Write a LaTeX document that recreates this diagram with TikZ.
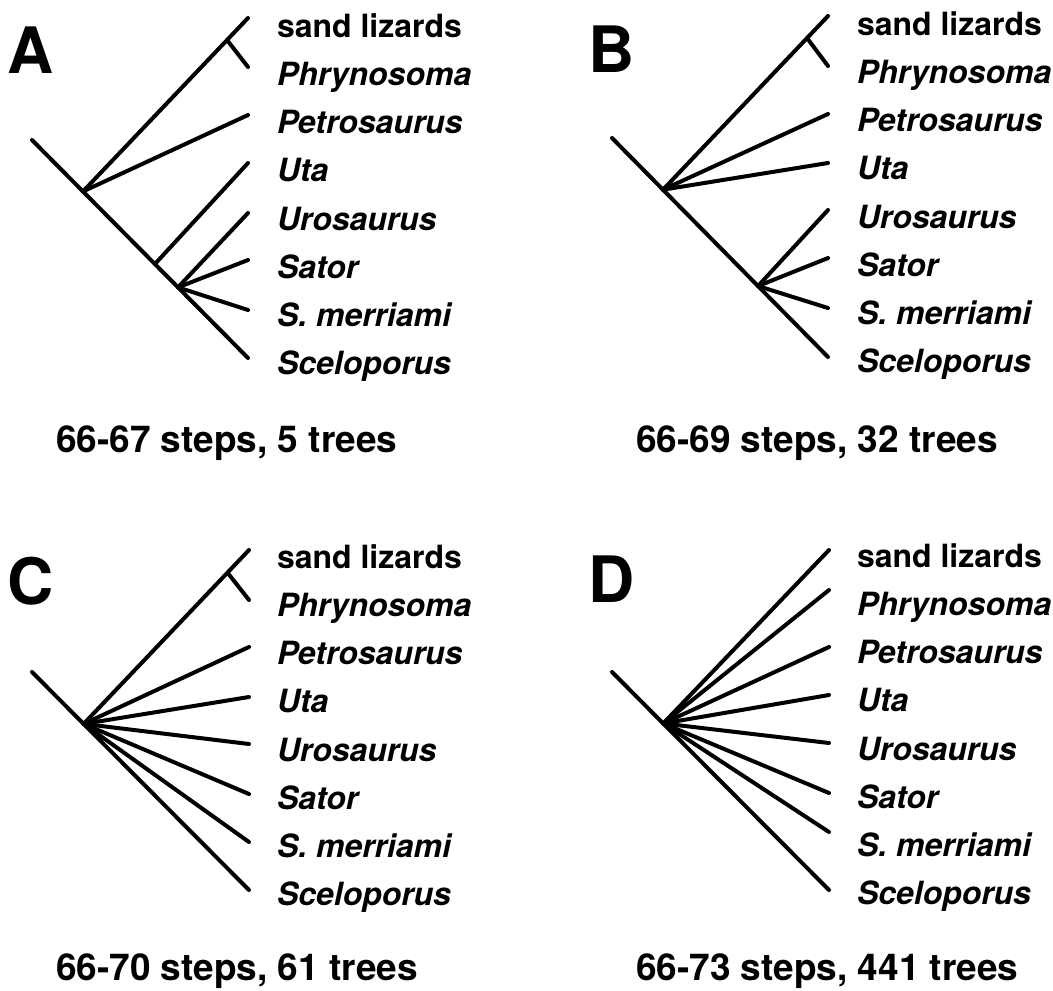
\documentclass[tikz,border=0pt]{standalone}
\usepackage{fontspec}
\setmainfont{TeX Gyre Heros}
\usetikzlibrary{calc}

\tikzset{
  branch/.style={draw, line width=4bp, line cap=round},
  taxon/.style={anchor=base west, inner sep=0pt, outer sep=0pt,
    font=\fontsize{32bp}{38bp}\selectfont\bfseries\itshape},
  plaintaxon/.style={taxon, font=\fontsize{32bp}{38bp}\selectfont\bfseries},
  caption/.style={anchor=base west, inner sep=0pt, outer sep=0pt,
    font=\fontsize{37bp}{44bp}\selectfont\bfseries},
  panel/.style={anchor=base west, inner sep=0pt, outer sep=0pt,
    font=\fontsize{64bp}{70bp}\selectfont\bfseries},
}

% Tip coordinates of one panel: #1 prefix, #2 x of the tips, #3 list of y values
\newcommand\placetips[3]{%
  \foreach \nm/\ty in {#3}
    \coordinate (#1-\nm) at (#2,\ty);
}

% Taxon labels of one panel: #1 prefix, #2 baseline of the first row
\newcommand\taxonlabels[2]{%
  \node[plaintaxon] (#1-lsl) at (277,#2) {sand lizards};
  \foreach \nm/\txt [count=\i] in {ph/Phrynosoma, pe/Petrosaurus, ut/Uta,
      ur/Urosaurus, sa/Sator, sm/S.\ merriami, sc/Sceloporus}
    \node[taxon] (#1-l\nm) at (277,{#2+48.25*\i}) {\txt};
}

\begin{document}
\begin{tikzpicture}[x=1bp, y=-1bp]
\useasboundingbox (0,0) rectangle (1053,991);

% ---------------- Panel A ----------------
\begin{scope}
  \node[panel] (A-tag) at (7,73) {A};
  \coordinate (A-root) at (32,140);
  \placetips{A}{248}{sl/18, ph/67, pe/115, ut/163, ur/213, sa/260, sm/310, sc/358}
  \coordinate (A-n1) at ($(A-root)!0.236!(A-sc)$);
  \coordinate (A-n2) at ($(A-root)!0.569!(A-sc)$);
  \coordinate (A-n3) at ($(A-root)!0.676!(A-sc)$);
  \coordinate (A-n4) at ($(A-n1)!0.873!(A-sl)$);
  \draw[branch] (A-root) -- (A-sc);
  \draw[branch] (A-n1) -- (A-sl);
  \draw[branch] (A-n4) -- (A-ph);
  \draw[branch] (A-n1) -- (A-pe);
  \draw[branch] (A-n2) -- (A-ut);
  \draw[branch] (A-n3) -- (A-ur);
  \draw[branch] (A-n3) -- (A-sa);
  \draw[branch] (A-n3) -- (A-sm);
  \taxonlabels{A}{37}
  \node[caption] (A-cap) at (56,452) {66-67 steps, 5 trees};
\end{scope}

% ---------------- Panel B ----------------
\begin{scope}[shift={(580,0)}]
  \node[panel] (B-tag) at (8,72) {B};
  \coordinate (B-root) at (32,138);
  \placetips{B}{248}{sl/16, ph/66, pe/114, ut/163, ur/210, sa/258, sm/308, sc/357}
  \coordinate (B-n1) at ($(B-root)!0.236!(B-sc)$);
  \coordinate (B-n3) at ($(B-root)!0.676!(B-sc)$);
  \coordinate (B-n4) at ($(B-n1)!0.873!(B-sl)$);
  \draw[branch] (B-root) -- (B-sc);
  \draw[branch] (B-n1) -- (B-sl);
  \draw[branch] (B-n4) -- (B-ph);
  \draw[branch] (B-n1) -- (B-pe);
  \draw[branch] (B-n1) -- (B-ut);
  \draw[branch] (B-n3) -- (B-ur);
  \draw[branch] (B-n3) -- (B-sa);
  \draw[branch] (B-n3) -- (B-sm);
  \taxonlabels{B}{35}
  \node[caption] (B-cap) at (56,452) {66-69 steps, 32 trees};
\end{scope}

% ---------------- Panel C ----------------
\begin{scope}[shift={(0,530)}]
  \node[panel] (C-tag) at (7,74) {C};
  \coordinate (C-root) at (32,142);
  \placetips{C}{249}{sl/20, ph/70, pe/117, ut/167, ur/214, sa/264, sm/312, sc/360}
  \coordinate (C-n1) at ($(C-root)!0.238!(C-sc)$);
  \coordinate (C-n4) at ($(C-n1)!0.87!(C-sl)$);
  \draw[branch] (C-root) -- (C-sc);
  \draw[branch] (C-n1) -- (C-sl);
  \draw[branch] (C-n4) -- (C-ph);
  \foreach \nm in {pe, ut, ur, sa, sm}
    \draw[branch] (C-n1) -- (C-\nm);
  \taxonlabels{C}{38}
  \node[caption] (C-cap) at (56,450) {66-70 steps, 61 trees};
\end{scope}

% ---------------- Panel D ----------------
\begin{scope}[shift={(580,530)}]
  \node[panel] (D-tag) at (8,72) {D};
  \coordinate (D-root) at (32,142);
  \placetips{D}{249}{sl/20, ph/60, pe/117, ut/165, ur/213, sa/263, sm/302, sc/360}
  \coordinate (D-n1) at ($(D-root)!0.236!(D-sc)$);
  \draw[branch] (D-root) -- (D-sc);
  \foreach \nm in {sl, ph, pe, ut, ur, sa, sm}
    \draw[branch] (D-n1) -- (D-\nm);
  \taxonlabels{D}{37}
  \node[caption] (D-cap) at (56,450) {66-73 steps, 441 trees};
\end{scope}

\end{tikzpicture}
\end{document}
